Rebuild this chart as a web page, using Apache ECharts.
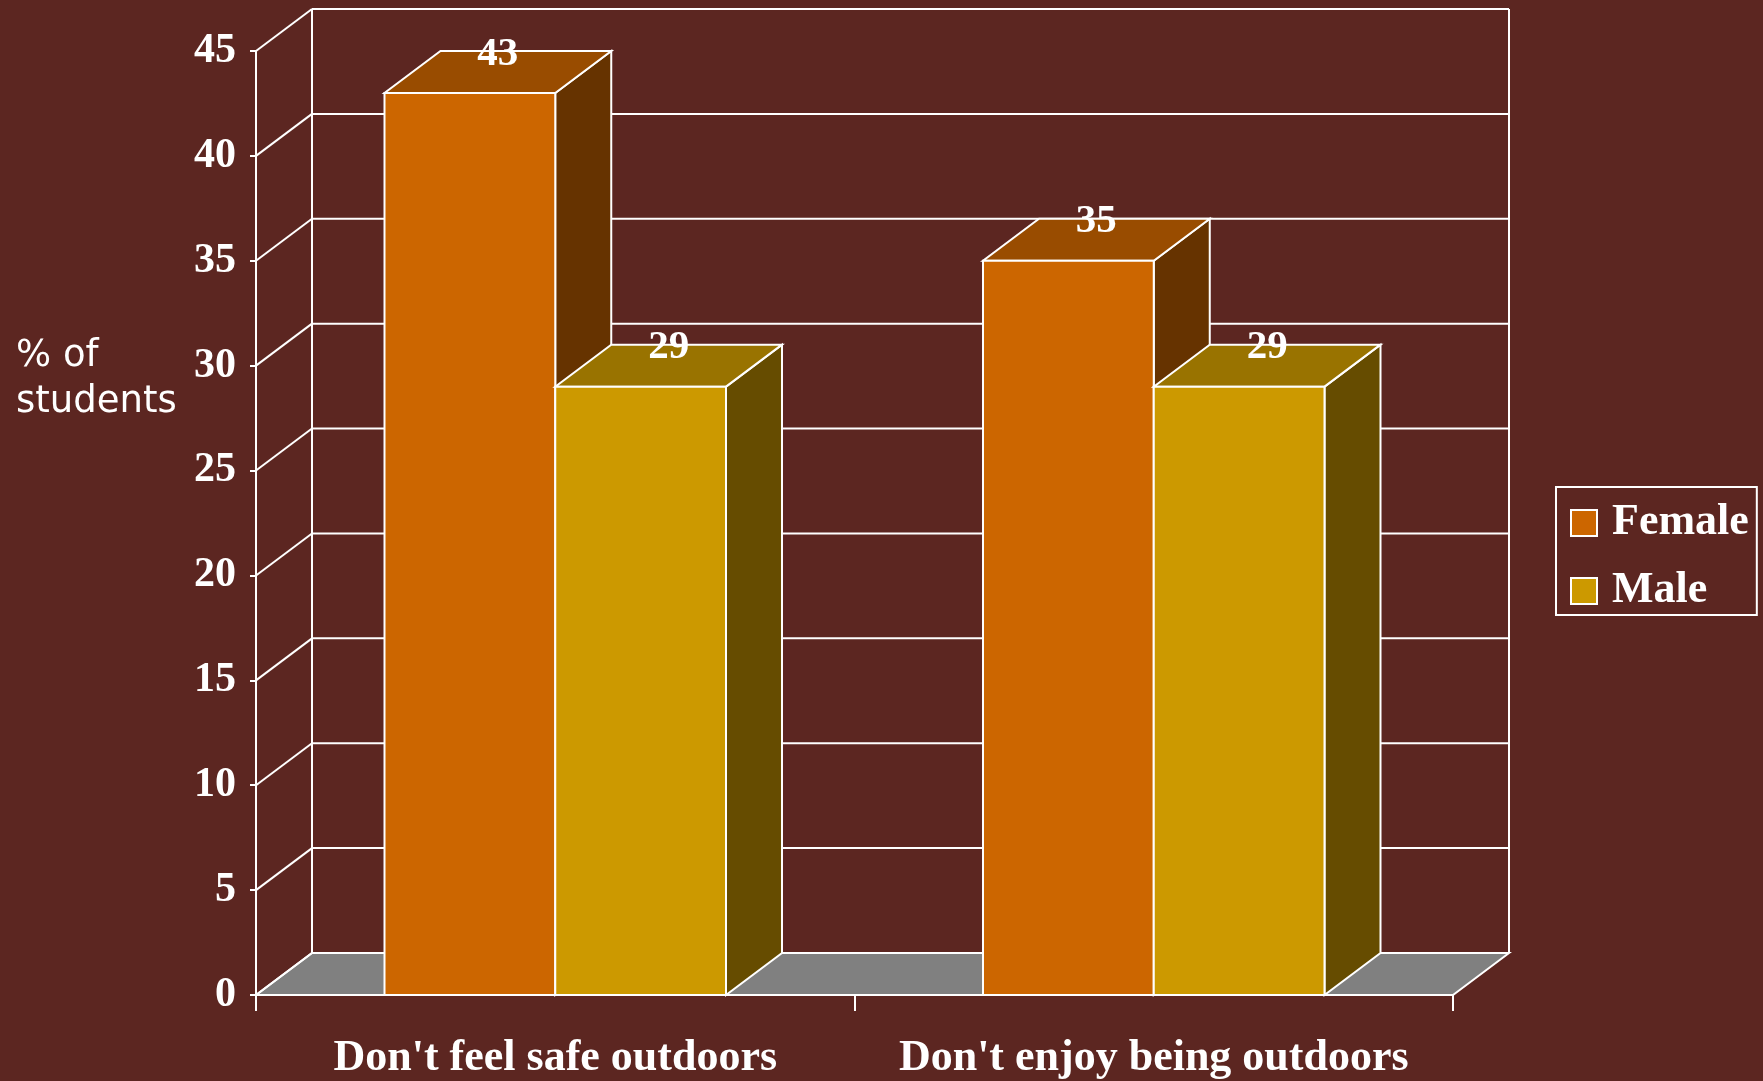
<!DOCTYPE html>
<html>
<head>
<meta charset="utf-8">
<title>Reasons for not going outdoors</title>
<script src="https://cdn.jsdelivr.net/npm/echarts@6/dist/echarts.min.js"></script>
<style>
  html, body { margin: 0; padding: 0; background: #5C2621; }
  #chart { width: 1763px; height: 1081px; }
</style>
</head>
<body>
<div id="chart"></div>
<script>
// Survey data
const categories = ["Don't feel safe outdoors", "Don't enjoy being outdoors"];
const seriesNames = ['Female', 'Male'];
const femaleValues = [43, 35];
const maleValues = [29, 29];
const yTicks = [0, 5, 10, 15, 20, 25, 30, 35, 40, 45];

// Styling
const BG = '#5C2621';
const FRONT = ['#CC6600', '#CC9900'];
const TOP = ['#994C00', '#997300'];
const SIDE = ['#663300', '#664C00'];
const FLOOR = '#808080';
const LINE = '#FFFFFF';
const DEPTH_X = 56;   // 3D depth offset in pixels
const DEPTH_Y = -42;
const BAR_FRAC = 0.2853; // bar width as a fraction of the category band
const SERIF = '"Liberation Serif", "Times New Roman", serif';

const chart = echarts.init(document.getElementById('chart'), null, { renderer: 'canvas' });

// Back wall, side wall and floor, one item per value tick
function renderWalls(params, api) {
  const v = api.value(1);
  const cs = params.coordSys;
  const left = cs.x, right = cs.x + cs.width;
  const y = api.coord([0, v])[1];
  const y0 = api.coord([0, yTicks[0]])[1];
  const yMax = api.coord([0, yTicks[yTicks.length - 1]])[1];
  const lineStyle = { stroke: LINE, lineWidth: 2, fill: null };
  const children = [];
  if (v === yTicks[0]) {
    children.push({
      type: 'polygon',
      shape: { points: [[left, y0], [right, y0], [right + DEPTH_X, y0 + DEPTH_Y], [left + DEPTH_X, y0 + DEPTH_Y]] },
      style: { fill: FLOOR, stroke: LINE, lineWidth: 2 }
    });
    children.push({
      type: 'line',
      shape: { x1: left + DEPTH_X, y1: y0 + DEPTH_Y, x2: left + DEPTH_X, y2: yMax + DEPTH_Y },
      style: lineStyle
    });
    children.push({
      type: 'line',
      shape: { x1: right + DEPTH_X, y1: y0 + DEPTH_Y, x2: right + DEPTH_X, y2: yMax + DEPTH_Y },
      style: lineStyle
    });
  }
  children.push({
    type: 'line',
    shape: { x1: left, y1: y, x2: left + DEPTH_X, y2: y + DEPTH_Y },
    style: lineStyle
  });
  children.push({
    type: 'line',
    shape: { x1: left + DEPTH_X, y1: y + DEPTH_Y, x2: right + DEPTH_X, y2: y + DEPTH_Y },
    style: lineStyle
  });
  return { type: 'group', children: children };
}

// 3D bar: side face, top face, front face and value label
function makeBarRenderer(idx) {
  return function (params, api) {
    const cat = api.value(0);
    const val = api.value(1);
    const base = api.coord([cat, 0]);
    const top = api.coord([cat, val]);
    const band = api.size([1, 0])[0];
    const bw = band * BAR_FRAC;
    const x0 = idx === 0 ? base[0] - bw : base[0];
    const x1 = x0 + bw;
    const ty = top[1], by = base[1];
    const edge = { stroke: LINE, lineWidth: 2, lineJoin: 'miter' };
    return {
      type: 'group',
      children: [
        {
          type: 'polygon',
          shape: { points: [[x1, ty], [x1, by], [x1 + DEPTH_X, by + DEPTH_Y], [x1 + DEPTH_X, ty + DEPTH_Y]] },
          style: Object.assign({ fill: SIDE[idx] }, edge)
        },
        {
          type: 'polygon',
          shape: { points: [[x0, ty], [x1, ty], [x1 + DEPTH_X, ty + DEPTH_Y], [x0 + DEPTH_X, ty + DEPTH_Y]] },
          style: Object.assign({ fill: TOP[idx] }, edge)
        },
        {
          type: 'rect',
          shape: { x: x0, y: ty, width: bw, height: by - ty },
          style: Object.assign({ fill: FRONT[idx] }, edge)
        },
        {
          type: 'text',
          x: x0 + bw / 2 + DEPTH_X / 2,
          y: ty + DEPTH_Y + 3,
          style: {
            text: String(val),
            fill: LINE,
            font: 'bold 41px ' + SERIF,
            align: 'center',
            verticalAlign: 'middle'
          }
        }
      ]
    };
  };
}

const option = {
  backgroundColor: BG,
  animation: false,
  grid: { left: 256, right: 310, top: 51, bottom: 84 },
  xAxis: {
    type: 'category',
    data: categories,
    boundaryGap: true,
    axisLine: { show: true, lineStyle: { color: LINE, width: 2 } },
    axisTick: { show: true, length: 16, lineStyle: { color: LINE, width: 2 } },
    axisLabel: {
      interval: 0,
      color: LINE,
      fontFamily: SERIF,
      fontWeight: 'bold',
      fontSize: 44,
      margin: 42
    },
    splitLine: { show: false }
  },
  yAxis: {
    type: 'value',
    min: 0,
    max: 45,
    interval: 5,
    axisLine: { show: true, lineStyle: { color: LINE, width: 2 } },
    axisTick: { show: true, length: 6, lineStyle: { color: LINE, width: 2 } },
    axisLabel: {
      color: LINE,
      fontFamily: SERIF,
      fontWeight: 'bold',
      fontSize: 42,
      margin: 20,
      padding: [6, 0, 0, 0]
    },
    splitLine: { show: false }
  },
  legend: {
    orient: 'vertical',
    left: 1556,
    top: 487,
    padding: [14, 8, 2, 14],
    itemGap: 24,
    itemWidth: 26,
    itemHeight: 26,
    borderColor: LINE,
    borderWidth: 2,
    icon: 'rect',
    itemStyle: { borderColor: LINE, borderWidth: 2 },
    textStyle: {
      color: LINE,
      fontFamily: SERIF,
      fontWeight: 'bold',
      fontSize: 44,
      lineHeight: 44,
      padding: [0, 0, 0, 10]
    },
    data: seriesNames
  },
  graphic: [
    {
      type: 'text',
      left: 16,
      top: 333,
      style: {
        text: '% of\nstudents',
        fill: LINE,
        font: '37px "DejaVu Sans", Verdana, sans-serif',
        lineHeight: 46
      }
    }
  ],
  series: [
    {
      type: 'custom',
      name: 'walls',
      z: 1,
      silent: true,
      renderItem: renderWalls,
      data: yTicks.map(v => [0, v])
    },
    {
      type: 'custom',
      name: seriesNames[0],
      z: 2,
      itemStyle: { color: FRONT[0] },
      renderItem: makeBarRenderer(0),
      encode: { x: 0, y: 1 },
      data: femaleValues.map((v, i) => [i, v])
    },
    {
      type: 'custom',
      name: seriesNames[1],
      z: 3,
      itemStyle: { color: FRONT[1] },
      renderItem: makeBarRenderer(1),
      encode: { x: 0, y: 1 },
      data: maleValues.map((v, i) => [i, v])
    }
  ]
};

chart.setOption(option);
</script>
</body>
</html>
